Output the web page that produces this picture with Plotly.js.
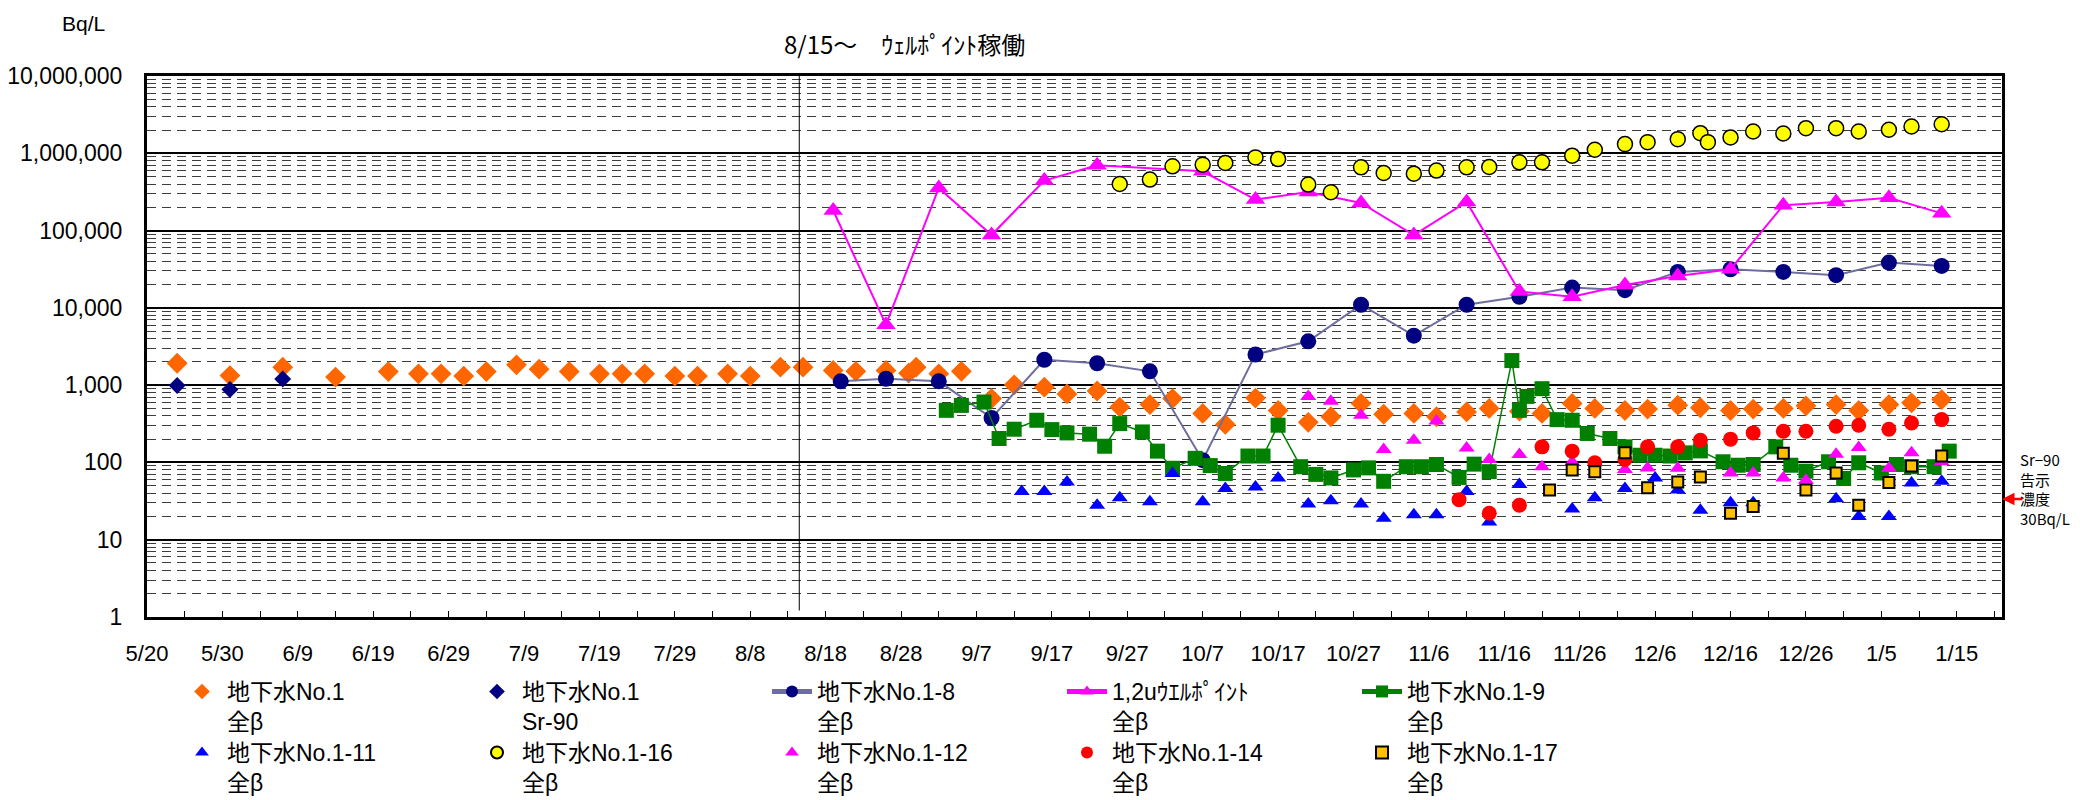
<!DOCTYPE html>
<html>
<head>
<meta charset="utf-8">
<script src="https://cdn.plot.ly/plotly-3.0.1.min.js"></script>
<style>html,body{margin:0;padding:0;background:#fff;}#chart{width:2089px;height:800px;}</style>
</head>
<body>
<div id="chart"></div>
<script>
// ---------- data ----------
const no1BetaDates = ['2013-05-24','2013-05-31','2013-06-07','2013-06-14','2013-06-21','2013-06-25','2013-06-28','2013-07-01','2013-07-04','2013-07-08','2013-07-11','2013-07-15','2013-07-19','2013-07-22','2013-07-25','2013-07-29','2013-08-01','2013-08-05','2013-08-08','2013-08-12','2013-08-15','2013-08-19','2013-08-22','2013-08-26','2013-08-29','2013-08-30','2013-09-02','2013-09-05','2013-09-09','2013-09-12','2013-09-16','2013-09-19','2013-09-23','2013-09-26','2013-09-30','2013-10-03','2013-10-07','2013-10-10','2013-10-14','2013-10-17','2013-10-21','2013-10-24','2013-10-28','2013-10-31','2013-11-04','2013-11-07','2013-11-11','2013-11-14','2013-11-18','2013-11-21','2013-11-25','2013-11-28','2013-12-02','2013-12-05','2013-12-09','2013-12-12','2013-12-16','2013-12-19','2013-12-23','2013-12-26','2013-12-30','2014-01-02','2014-01-06','2014-01-09','2014-01-13'];
const no1BetaValues = [1920,1330,1710,1270,1500,1400,1400,1310,1500,1830,1610,1500,1400,1400,1400,1310,1310,1400,1310,1710,1710,1550,1510,1550,1430,1710,1400,1510,670,1010,940,770,840,520,560,670,430,310,680,470,330,390,580,420,430,390,450,500,460,430,580,500,470,490,550,510,470,490,500,540,560,470,560,590,650];

const no1Sr90Dates = ['2013-05-24','2013-05-31','2013-06-07'];
const no1Sr90Values = [990,880,1200];

const no1_8Dates = ['2013-08-20','2013-08-26','2013-09-02','2013-09-09','2013-09-16','2013-09-23','2013-09-30','2013-10-07','2013-10-14','2013-10-21','2013-10-28','2013-11-04','2013-11-11','2013-11-18','2013-11-25','2013-12-02','2013-12-09','2013-12-16','2013-12-23','2013-12-30','2014-01-06','2014-01-13'];
const no1_8Values = [1120,1210,1120,376,2130,1920,1510,107,2490,3690,10970,4370,10970,13900,18300,16950,29200,31600,29200,26500,38500,34900];

const wellPointDates = ['2013-08-19','2013-08-26','2013-09-02','2013-09-09','2013-09-16','2013-09-23','2013-10-07','2013-10-14','2013-10-21','2013-10-28','2013-11-04','2013-11-11','2013-11-18','2013-11-25','2013-12-02','2013-12-09','2013-12-16','2013-12-23','2013-12-30','2014-01-06','2014-01-13'];
const wellPointValues = [182000,6060,356000,87500,444000,698000,584000,252000,316000,228000,87500,235000,16300,13900,19700,25900,31600,213000,235000,265000,167000];

const no1_9Dates = ['2013-09-03','2013-09-05','2013-09-08','2013-09-10','2013-09-12','2013-09-15','2013-09-17','2013-09-19','2013-09-22','2013-09-24','2013-09-26','2013-09-29','2013-10-01','2013-10-03','2013-10-06','2013-10-08','2013-10-10','2013-10-13','2013-10-15','2013-10-17','2013-10-20','2013-10-22','2013-10-24','2013-10-27','2013-10-29','2013-10-31','2013-11-03','2013-11-05','2013-11-07','2013-11-10','2013-11-12','2013-11-14','2013-11-17','2013-11-18','2013-11-19','2013-11-21','2013-11-23','2013-11-25','2013-11-27','2013-11-30','2013-12-02','2013-12-04','2013-12-06','2013-12-08','2013-12-10','2013-12-12','2013-12-15','2013-12-17','2013-12-19','2013-12-22','2013-12-24','2013-12-26','2013-12-29','2013-12-31','2014-01-02','2014-01-05','2014-01-07','2014-01-09','2014-01-12','2014-01-14'];
const no1_9Values = [472,547,604,204,269,351,266,241,232,162,318,248,140,84,113,91,72,121,121,303,88,70,63,80,85,57,88,88,94,64,95,76,2080,472,715,900,358,351,237,204,159,124,124,121,133,141,102,92,94,159,92,77,102,62,99,73,94,88,88,140];

const no1_11Dates = ['2013-09-13','2013-09-16','2013-09-19','2013-09-23','2013-09-26','2013-09-30','2013-10-03','2013-10-07','2013-10-10','2013-10-14','2013-10-17','2013-10-21','2013-10-24','2013-10-28','2013-10-31','2013-11-04','2013-11-07','2013-11-11','2013-11-14','2013-11-18','2013-11-25','2013-11-28','2013-12-02','2013-12-06','2013-12-09','2013-12-12','2013-12-16','2013-12-19','2013-12-30','2014-01-02','2014-01-06','2014-01-09','2014-01-13'];
const no1_11Values = [42,42,56,28,35,31,72,31,46,48,63,29,32,29,19,21,21,42,17,52,25,35,46,63,44,24,30,30,34,20,20,54,57];

const no1_16Dates = ['2013-09-26','2013-09-30','2013-10-03','2013-10-07','2013-10-10','2013-10-14','2013-10-17','2013-10-21','2013-10-24','2013-10-28','2013-10-31','2013-11-04','2013-11-07','2013-11-11','2013-11-14','2013-11-18','2013-11-21','2013-11-25','2013-11-28','2013-12-02','2013-12-05','2013-12-09','2013-12-12','2013-12-13','2013-12-16','2013-12-19','2013-12-23','2013-12-26','2013-12-30','2014-01-02','2014-01-06','2014-01-09','2014-01-13'];
const no1_16Values = [401000,457000,678000,713000,748000,885000,842000,394000,313000,658000,556000,545000,597000,658000,664000,764000,764000,931000,1112000,1314000,1394000,1524000,1820000,1394000,1603000,1915000,1804000,2114000,2114000,1915000,2014000,2223000,2378000];

const no1_12Dates = ['2013-10-21','2013-10-24','2013-10-28','2013-10-31','2013-11-04','2013-11-07','2013-11-11','2013-11-14','2013-11-18','2013-11-21','2013-11-25','2013-12-02','2013-12-05','2013-12-09','2013-12-16','2013-12-19','2013-12-23','2013-12-26','2013-12-30','2014-01-02','2014-01-06','2014-01-09','2014-01-13'];
const no1_12Values = [715,617,407,147,194,344,154,109,127,88,101,81,85,84,73,73,63,59,128,156,84,133,102];

const no1_14Dates = ['2013-11-10','2013-11-14','2013-11-18','2013-11-21','2013-11-25','2013-11-28','2013-12-02','2013-12-05','2013-12-09','2013-12-12','2013-12-16','2013-12-19','2013-12-23','2013-12-26','2013-12-30','2014-01-02','2014-01-06','2014-01-09','2014-01-13'];
const no1_14Values = [33,22,28,159,140,99,109,159,159,194,200,241,253,253,294,303,269,324,358];

const no1_17Dates = ['2013-11-22','2013-11-25','2013-11-28','2013-12-02','2013-12-05','2013-12-09','2013-12-12','2013-12-16','2013-12-19','2013-12-23','2013-12-26','2013-12-30','2014-01-02','2014-01-06','2014-01-09','2014-01-13'];
const no1_17Values = [44,80,76,133,47,56,65,22,27,131,44,73,28,55,90,121];

const seriesNames = ['地下水No.1<br>全β','地下水No.1<br>Sr-90','地下水No.1-8<br>全β','1,2uｳｴﾙﾎﾟｲﾝﾄ<br>全β','地下水No.1-9<br>全β','地下水No.1-11<br>全β','地下水No.1-16<br>全β','地下水No.1-12<br>全β','地下水No.1-14<br>全β','地下水No.1-17<br>全β'];

const yTickValues = [1,10,100,1000,10000,100000,1000000,10000000];
const yTickLabels = ['1','10','100','1,000','10,000','100,000','1,000,000','10,000,000'];
const unitLabel = 'Bq/L';
const wellPointNote = '8/15～　ｳｪﾙﾎﾟｲﾝﾄ稼働';
const wellPointLineDate = '2013-08-14 12:00';
const sr90Limit = 30;
const sr90Note = 'Sr−90<br>告示<br>濃度<br>30Bq/L';

// ---------- chart ----------
const jp = '"Liberation Sans", "Noto Sans CJK JP", sans-serif';
const jpOnly = '"Noto Sans CJK JP", sans-serif';
function pts(x, y, name, legend, marker, line) {
  const t = {x: x, y: y, name: name, legend: legend, type: 'scatter',
             mode: line ? 'lines+markers' : 'markers', marker: marker, cliponaxis: false};
  if (line) t.line = line;
  return t;
}
const traces = [
  pts(no1BetaDates, no1BetaValues, seriesNames[0], 'legend', {symbol:'diamond', size:16, color:'#FF6600'}),
  pts(no1Sr90Dates, no1Sr90Values, seriesNames[1], 'legend', {symbol:'diamond', size:13, color:'#000080'}),
  pts(no1_8Dates, no1_8Values, seriesNames[2], 'legend', {symbol:'circle', size:16, color:'#000080'}, {color:'#6E6E9E', width:2}),
  pts(wellPointDates, wellPointValues, seriesNames[3], 'legend', {symbol:'triangle-up', size:17, color:'#FF00FF'}, {color:'#FF00FF', width:2}),
  pts(no1_9Dates, no1_9Values, seriesNames[4], 'legend', {symbol:'square', size:15, color:'#008000'}, {color:'#008000', width:1.5}),
  pts(no1_11Dates, no1_11Values, seriesNames[5], 'legend2', {symbol:'triangle-up', size:14, color:'#0000FF'}),
  pts(no1_16Dates, no1_16Values, seriesNames[6], 'legend2', {symbol:'circle', size:15, color:'#FFFF00', line:{color:'#000000', width:1.5}}),
  pts(no1_12Dates, no1_12Values, seriesNames[7], 'legend2', {symbol:'triangle-up', size:14, color:'#FF00FF'}),
  pts(no1_14Dates, no1_14Values, seriesNames[8], 'legend2', {symbol:'circle', size:15, color:'#FF0000'}),
  pts(no1_17Dates, no1_17Values, seriesNames[9], 'legend2', {symbol:'square', size:11, color:'#FFC000', line:{color:'#000000', width:2}})
];

const legendBase = {
  orientation: 'h', xref: 'container', yref: 'container', xanchor: 'left', yanchor: 'top',
  entrywidth: 240, entrywidthmode: 'pixels', itemwidth: 40, valign: 'top', itemsizing: 'constant',
  font: {family: jp, size: 23, color: '#000'}, bgcolor: 'rgba(0,0,0,0)', tracegroupgap: 0
};

const layout = {
  width: 2089, height: 800,
  margin: {l: 147, r: 87, t: 76, b: 183},
  paper_bgcolor: '#ffffff', plot_bgcolor: '#ffffff',
  font: {family: '"Liberation Sans", Arial, sans-serif', size: 22, color: '#000'},
  showlegend: true,
  legend: Object.assign({}, legendBase, {x: 177/2089, y: 1 - 670/800}),
  legend2: Object.assign({}, legendBase, {x: 177/2089, y: 1 - 731/800}),
  xaxis: {
    type: 'date', range: ['2013-05-20', '2014-01-21'],
    tickmode: 'linear', tick0: '2013-05-20', dtick: 10*86400000, tickformat: '%-m/%-d',
    ticks: 'inside', ticklen: 6, tickwidth: 1, tickcolor: '#000',
    minor: {dtick: 5*86400000, tick0: '2013-05-20', ticks: 'inside', ticklen: 6, tickcolor: '#000', showgrid: false},
    showgrid: false, zeroline: false,
    showline: true, linecolor: '#000', linewidth: 3, mirror: true,
    tickfont: {size: 22}, ticklabelstandoff: 15
  },
  yaxis: {
    type: 'log', range: [0, 7],
    tickmode: 'array', tickvals: yTickValues, ticktext: yTickLabels,
    ticks: '', showgrid: true, gridcolor: '#000', gridwidth: 2,
    minor: {dtick: 'D1', showgrid: true, gridcolor: '#3c3c3c', gridwidth: 1, griddash: '9px,6px', ticks: ''},
    zeroline: false, showline: true, linecolor: '#000', linewidth: 3, mirror: true,
    tickfont: {size: 23}, ticklabelstandoff: 17
  },
  shapes: [
    {type: 'line', xref: 'x', yref: 'paper', x0: wellPointLineDate, x1: wellPointLineDate, y0: 0.012, y1: 1,
     line: {color: '#000', width: 1}}
  ],
  annotations: [
    {text: unitLabel, xref: 'paper', yref: 'paper', x: (60-147)/1855, y: (617-24)/541,
     xanchor: 'left', yanchor: 'middle', showarrow: false, font: {size: 21}},
    {text: wellPointNote, xref: 'paper', yref: 'paper', x: (904-147)/1855, y: (617-44)/541,
     xanchor: 'center', yanchor: 'middle', showarrow: false, font: {family: jpOnly, size: 24}},
    {text: '', xref: 'paper', yref: 'y', x: 1, y: Math.log10(sr90Limit) + 0.05, showarrow: true,
     ax: 22, ay: 0, arrowhead: 2, arrowsize: 1, arrowwidth: 2.5, arrowcolor: '#FF0000'},
    {text: sr90Note, xref: 'paper', yref: 'y', x: 1, y: Math.log10(sr90Limit), xshift: 16, yshift: 14,
     xanchor: 'left', yanchor: 'middle', align: 'left', showarrow: false,
     font: {family: jpOnly, size: 15, color: '#000'}}
  ]
};

Plotly.newPlot('chart', traces, layout, {staticPlot: true, displayModeBar: false});
</script>
</body>
</html>
